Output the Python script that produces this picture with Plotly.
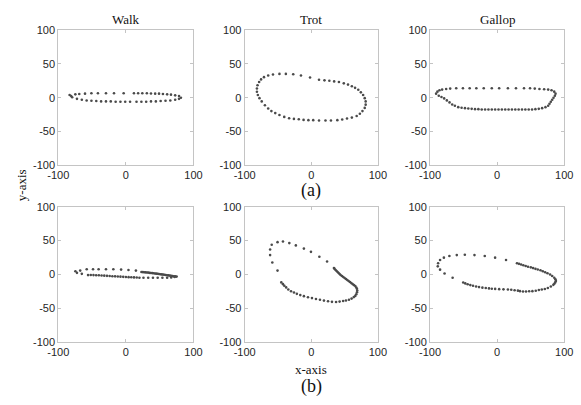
import plotly.graph_objects as go

# ---------------- data ----------------
walk_a_x = [-83.3, -81, -74.8, -69, -60.5, -51, -41.4, -29.5, -17.6, -3.3, 11.9, 18.1, 24.3, 31, 37.1,
            43.3, 49, 54.8, 61, 66.7, 72.9, 78.6, 81.4,
            78.6, 72.9, 65.7, 58.6, 51.4, 44.3, 37.1, 30, 22.9, 15.7, 6.2, -1, -8.1, -15.2, -22.4,
            -29.5, -36.7, -43.8, -51, -58.1, -65.2, -72.4, -79.5]
walk_a_y = [4, 2.6, 5, 5.5, 6, 6.5, 6.5, 6.5, 6.5, 6.5, 6.5, 6.5, 6.5, 6.5, 6.3,
            6, 6, 5.5, 5, 4.5, 3.5, 2.5, 0,
            -1.7, -3.1, -4.1, -4.6, -5, -5.5, -5.5, -6, -6, -6, -6, -6, -6, -6, -5.5,
            -5.5, -5.5, -5, -4.6, -4.1, -3.1, -1.7, 0.7]

trot_a_x = [-81.6, -80.7, -78.3, -75.4, -71, -64.7, -57.5, -47.8, -38.2, -27.1, -15.5, -1.9,
            11.6, 19.8, 27.1, 34.3, 41.5, 48.8, 55.1, 60.9, 65.7, 70.5, 74.4, 77.8, 80.2, 81.6,
            81.6, 80.2, 76.8, 72.9, 68.1, 60.9, 53.6, 46.4, 39.1, 29.5, 21.3, 11.6, 2.9, -4.3,
            -11.6, -18.8, -26.1, -33.3, -40.6, -47.8, -54.1, -59.9, -64.7, -69.6, -74.4, -77.8,
            -80.2, -81.6]
trot_a_y = [13.7, 18.5, 23.3, 27.1, 30.5, 32.9, 34.3, 35.3, 35.3, 34.8, 32.9, 30,
            26.6, 25.7, 25.2, 24.2, 23.3, 21.3, 19.4, 17, 14.6, 11.8, 7.9, 4.1, -0.7, -5.5,
            -10.3, -15.1, -19.9, -23.7, -27.1, -29.5, -30.9, -32.4, -33.3, -33.8, -33.8, -33.8,
            -33.3, -33.3, -32.9, -31.9, -31.4, -30.5, -28.5, -25.6, -22.8, -19.9, -16.1, -11.3,
            -5.5, -0.7, 4.1, 8.9]

gallop_a_x = [-91, -89, -86, -82, -76, -70, -61, -51, -41, -31, -20, -8, 3, 16, 28, 40, 49, 56,
              63, 70, 76, 81, 85, 87,
              86, 84, 82, 80, 78, 76, 72, 67, 62,
              57, 52, 47, 42, 37, 32, 27, 22, 17, 12, 7, 2, -3, -8, -13, -18, -23, -28, -33,
              -38, -43, -48, -53, -58, -63, -67, -71, -75, -79, -83, -87]
gallop_a_y = [6, 9, 11, 12, 13, 13.5, 14, 14, 14, 14, 14, 14, 14, 14, 14, 14, 14, 13.5,
              13, 12.5, 12, 11, 9, 6,
              3, 0, -3, -6, -9, -12, -14, -15.5, -16.5,
              -17, -17.5, -17.5, -17.5, -17.5, -17.5, -17.5, -17.5, -17.5, -17.5, -17.5, -17.5,
              -17.5, -17.5, -17.5, -17.5, -17.5, -17, -17,
              -16.5, -16, -15.5, -15, -14, -12, -10, -7, -4, -1, 1, 3]

walk_b_x = [-74.7, -72.4, -67.6, -65.2, -58, -48.6, -40.4, -29.5, -18.6, -7.1, 3.8, 14.8,
            23, 25, 27, 29, 31, 33, 35, 37, 39, 41, 43, 45, 47, 49, 51, 53, 55, 57, 59, 61,
            63, 65, 67, 69, 71, 73, 75,
            72, 67, 61, 54, 47, 40, 33, 26, 20, 16, 12, 8, 4, 0, -4, -8, -12, -16, -20,
            -24, -28, -32, -36, -40, -44, -48, -52, -56]
walk_b_y = [4.6, 2.2, 5.5, 0.7, 7.5, 7.5, 7.5, 7.5, 7.5, 7, 6.5, 5.5,
            3.5, 3.3, 3.1, 2.9, 2.7, 2.5, 2.2, 2, 1.8, 1.5, 1.3, 1, 0.8, 0.5, 0.2, -0.1, -0.4,
            -0.7, -1, -1.3, -1.6, -1.9, -2.2, -2.5, -2.8, -3.1, -3.4,
            -4, -4.6, -5, -5, -5, -5, -5, -5, -5, -4.8, -4.6, -4.4, -4.2, -4, -3.8, -3.5,
            -3.3, -3, -2.8, -2.5, -2.3, -2, -1.8, -1.5, -1.3, -1.2, -1, -1.2]

trot_b_x = [-50.7, -58.5, -61.8, -61.8, -59.4, -50.7, -42.5, -33, -23.2, -11.1, -0.5, 12.1, 23.7,
            34, 35, 36.5, 38, 39.5, 41, 42.5, 44, 46, 48, 50, 52, 54, 56, 58, 60, 62, 64, 66,
            67.5, 68.5, 69, 68.6, 67.5, 66, 63.8, 60.5, 56.5, 52, 47.8, 42.5, 37.2, 31, 25.1,
            19, 13, 7, 1, -5, -11.1, -16.5, -21.7, -26, -30.4, -34.5, -37.7, -40.5, -42.5,
            -45]
trot_b_y = [5.5, 17.5, 28.5, 36.7, 43.9, 47.7, 48.7, 46.3, 42.9, 38.1, 33.3, 26.1, 18.9,
            9.4, 8, 6.5, 5, 3.5, 2, 0.5, -1, -2.5, -4, -5.5, -7, -8.5, -10, -11.5, -13, -14.5,
            -16, -17.5, -19.5, -21.5, -24, -26.6, -29.5, -32, -33.8, -36, -37.7, -38.8, -39.6,
            -40.5, -41, -40.8, -40, -39, -37.7, -36.5, -35.3, -34, -32.4, -30.8, -29, -27,
            -25.2, -22.5, -19.4, -17, -14.6, -12]

gallop_b_x = [-66.4, -78.4, -85.1, -88.5, -88, -85.1, -79.4, -71.2, -60.2, -48.2, -33.8,
              -18.5, -3.1, 13.2, 29.5, 32.5, 35.7, 39, 42.5, 46, 50.1, 53.5, 57, 60.5, 64.5,
              68, 71.5, 75, 78.9, 82, 85.1, 86.8, 87.5, 86.5, 85.2, 83.7, 80, 75.5, 71, 66.5,
              62.1, 57.5, 52.5, 47.7, 43, 38.5, 34, 30.9, 26, 21, 16, 9.4, 3, -3, -8, -12.2,
              -17, -22, -27, -31.4, -36, -40, -44, -47.5, -50.6]
gallop_b_y = [-5, 1.2, 6.9, 11.8, 16.5, 21.3, 24.7, 27.1, 28.5, 29, 28.5,
              27.1, 24.7, 21.3, 16.5, 15.5, 14.6, 13.5, 12.4, 11.3, 10.3, 9.2, 8.1, 7.1, 6,
              4.5, 3, 1.5, -0.2, -2.5, -5, -7.5, -9.8, -12, -14, -15.6, -18, -20.4, -21.8, -22.6,
              -23.3, -24.3, -25, -25.2, -25.5, -25.5, -25, -24.2, -23.6, -23, -22.6, -22.3,
              -22, -21.6, -21.3, -20.9, -20.4, -19.8, -19, -18, -17, -16, -14.8, -13.5, -12.2]

panel_titles = ["Walk", "Trot", "Gallop"]
row_labels = ["(a)", "(b)"]
x_ticks = [-100, 0, 100]
y_ticks = [-100, -50, 0, 50, 100]
axis_range = [-100, 100]

# ---------------- layout geometry ----------------
W, H = 581, 405
col_px = [(49, 189), (242, 380), (434, 573)]
row_px = [(25, 164), (207, 346)]

series = [[(walk_a_x, walk_a_y), (trot_a_x, trot_a_y), (gallop_a_x, gallop_a_y)],
          [(walk_b_x, walk_b_y), (trot_b_x, trot_b_y), (gallop_b_x, gallop_b_y)]]

fig = go.Figure()
tick_font = dict(family="Liberation Sans, Arial, sans-serif", size=11, color="#262626")
serif = "Liberation Serif, Times New Roman, serif"
layout = dict(width=W, height=H, margin=dict(l=0, r=0, t=0, b=0),
              paper_bgcolor="white", plot_bgcolor="white", showlegend=False)

k = 0
for r in range(2):
    for c in range(3):
        k += 1
        xs, ys = series[r][c]
        xa = "x" if k == 1 else f"x{k}"
        ya = "y" if k == 1 else f"y{k}"
        fig.add_trace(go.Scatter(x=xs, y=ys, mode="markers", xaxis=xa, yaxis=ya,
                                 marker=dict(symbol="circle", size=2.6, color="#4a4a4a",
                                             line=dict(width=0))))
        x0, x1 = col_px[c]
        y0, y1 = row_px[r]
        common = dict(range=axis_range, showgrid=False, zeroline=False, showline=True,
                      linecolor="#c4c4c4", linewidth=1, mirror="ticks", ticks="inside",
                      ticklen=3, tickcolor="#c4c4c4", tickfont=tick_font)
        layout["xaxis" if k == 1 else f"xaxis{k}"] = dict(
            domain=[x0 / W, x1 / W], anchor=ya, tickvals=x_ticks,
            ticktext=[str(v) for v in x_ticks], **common)
        layout["yaxis" if k == 1 else f"yaxis{k}"] = dict(
            domain=[1 - y1 / H, 1 - y0 / H], anchor=xa, tickvals=y_ticks,
            ticktext=[str(v) for v in y_ticks], **common)

annotations = []
for c, t in enumerate(panel_titles):
    cx = (col_px[c][0] + col_px[c][1]) / 2
    annotations.append(dict(text=t, x=cx / W, y=1 - 14 / H, xref="paper", yref="paper",
                            showarrow=False, font=dict(family=serif, size=13, color="#111"),
                            xanchor="center", yanchor="middle"))
mid = (col_px[1][0] + col_px[1][1]) / 2
annotations.append(dict(text=row_labels[0], x=mid / W, y=1 - 190 / H, xref="paper", yref="paper",
                        showarrow=False, font=dict(family=serif, size=18, color="#111"),
                        xanchor="center", yanchor="middle"))
annotations.append(dict(text=row_labels[1], x=mid / W, y=1 - 392 / H, xref="paper", yref="paper",
                        showarrow=False, font=dict(family=serif, size=18, color="#111"),
                        xanchor="center", yanchor="middle"))
annotations.append(dict(text="x-axis", x=mid / W, y=1 - 375 / H, xref="paper", yref="paper",
                        showarrow=False, font=dict(family=serif, size=13, color="#111"),
                        xanchor="center", yanchor="middle"))
annotations.append(dict(text="y-axis", x=11 / W, y=1 - 185 / H, xref="paper", yref="paper",
                        showarrow=False, textangle=-90,
                        font=dict(family=serif, size=13, color="#111"),
                        xanchor="center", yanchor="middle"))
layout["annotations"] = annotations
fig.update_layout(**layout)
fig.write_html("out.html")
